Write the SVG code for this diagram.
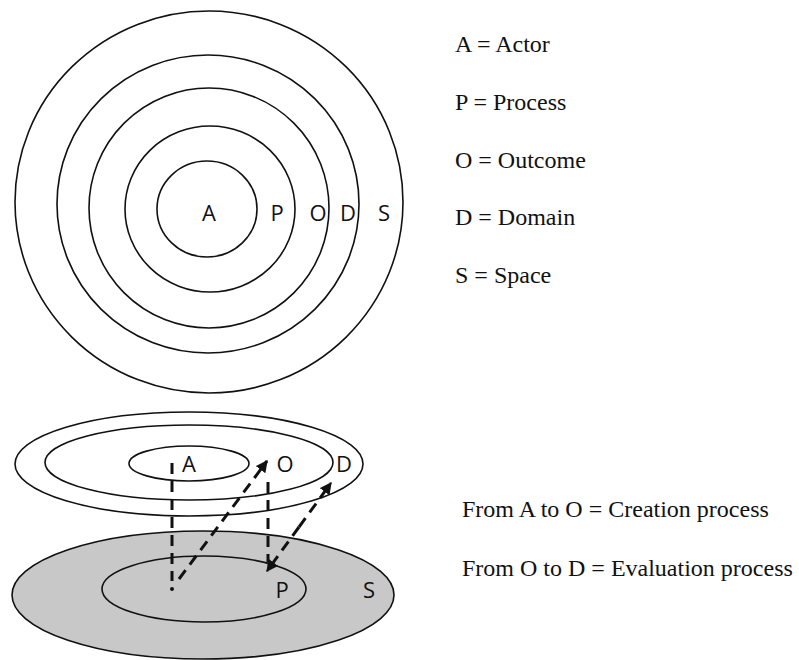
<svg xmlns="http://www.w3.org/2000/svg" width="799" height="660" viewBox="0 0 799 660">
  <style>
    .ring { fill: none; stroke: #111; stroke-width: 1.6; }
    .lbl { font-family: "Open Sans", "Noto Sans", sans-serif; font-size: 22px; fill: #111; text-anchor: middle; }
    .legend { font-family: "Liberation Serif", serif; font-size: 24px; fill: #111; }
    .dash { fill: none; stroke: #111; stroke-width: 3; stroke-dasharray: 11 7; }
  </style>
  <defs>
    <marker id="head" viewBox="0 0 10 10" refX="9" refY="5" markerWidth="4" markerHeight="4" orient="auto" markerUnits="strokeWidth">
      <path d="M0,0 L10,5 L0,10 Z" fill="#111"/>
    </marker>
  </defs>
  <rect width="799" height="660" fill="#fff"/>

  <!-- concentric view -->
  <g id="space-ring"><ellipse class="ring" cx="209" cy="202" rx="194" ry="191"/><text class="lbl" x="384" y="221">S</text></g>
  <g id="domain-ring"><ellipse class="ring" cx="208" cy="204" rx="151" ry="149"/><text class="lbl" x="348" y="221">D</text></g>
  <g id="outcome-ring"><ellipse class="ring" cx="209" cy="208" rx="120" ry="120"/><text class="lbl" x="318" y="221">O</text></g>
  <g id="process-ring"><ellipse class="ring" cx="210" cy="209" rx="85" ry="83"/><text class="lbl" x="277" y="221">P</text></g>
  <g id="actor-ring"><ellipse class="ring" cx="207" cy="209" rx="50" ry="48"/><text class="lbl" x="209" y="221">A</text></g>

  <!-- legend -->
  <g id="legend">
    <text class="legend" x="455" y="52">A = Actor</text>
    <text class="legend" x="455" y="110">P = Process</text>
    <text class="legend" x="455" y="168">O = Outcome</text>
    <text class="legend" x="455" y="225">D = Domain</text>
    <text class="legend" x="455" y="283">S = Space</text>
  </g>

  <!-- layered view: ground plane -->
  <g id="space-plane">
    <ellipse class="ring" cx="203" cy="595" rx="191" ry="64" style="fill:#c8c8c8"/>
    <text class="lbl" x="369" y="598">S</text>
  </g>
  <g id="process-plane">
    <ellipse class="ring" cx="204" cy="589" rx="102" ry="33"/>
    <text class="lbl" x="282" y="598">P</text>
  </g>

  <!-- layered view: upper plane -->
  <g id="domain-plane">
    <ellipse class="ring" cx="189" cy="464" rx="174" ry="52"/>
    <text class="lbl" x="344" y="472">D</text>
  </g>
  <g id="outcome-plane">
    <ellipse class="ring" cx="189" cy="462.5" rx="144" ry="37.5"/>
    <text class="lbl" x="285" y="472">O</text>
  </g>
  <g id="actor-plane">
    <ellipse class="ring" cx="189" cy="463.5" rx="60" ry="17.5"/>
    <text class="lbl" x="189" y="472">A</text>
  </g>

  <!-- connectors -->
  <g id="connectors">
    <line class="dash" x1="172" y1="463" x2="172" y2="581"/>
    <circle cx="172" cy="589" r="2" fill="#111"/>
    <line class="dash" x1="179" y1="579" x2="267" y2="461" marker-end="url(#head)"/>
    <line class="dash" x1="268" y1="482" x2="268" y2="562"/>
    <!-- two-way link between P and D, drawn as two halves from its midpoint -->
    <line class="dash" x1="299" y1="527" x2="267" y2="571" marker-end="url(#head)"/>
    <line class="dash" x1="299" y1="527" x2="331" y2="483" marker-end="url(#head)"/>
  </g>

  <!-- process notes -->
  <g id="notes">
    <text class="legend" x="462" y="517">From A to O = Creation process</text>
    <text class="legend" x="462" y="576">From O to D = Evaluation process</text>
  </g>
</svg>
